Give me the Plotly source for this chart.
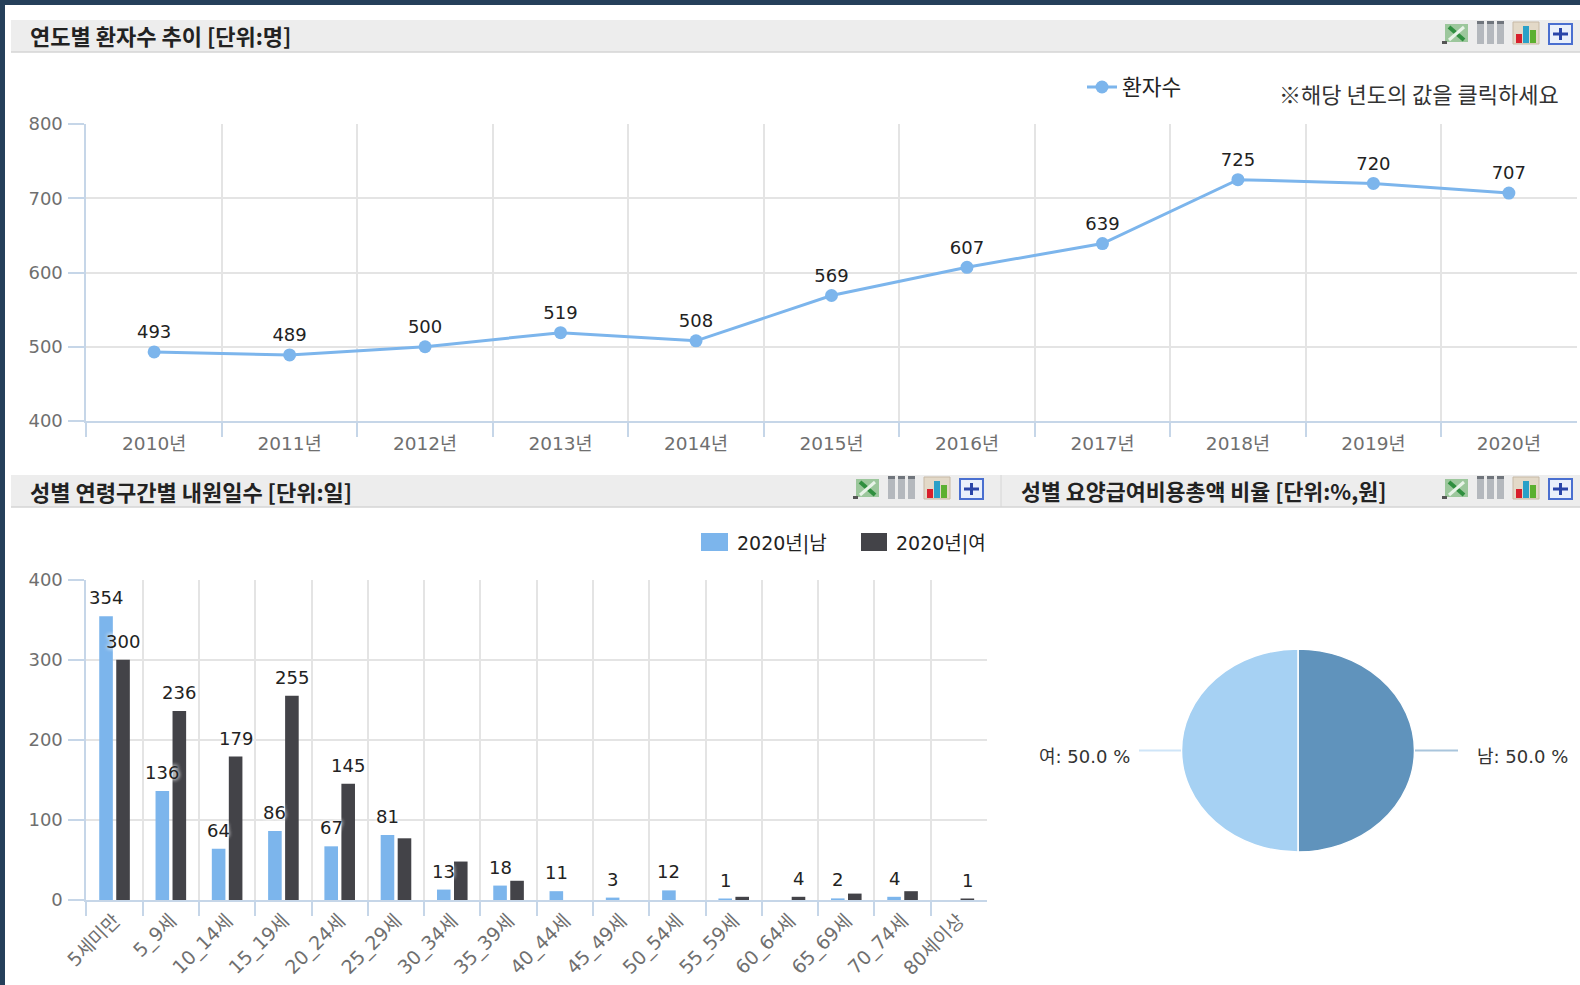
import plotly.graph_objects as go

W, H = 1580, 985
FONT = "DejaVu Sans, Noto Sans CJK KR, sans-serif"
KR = "Noto Sans CJK KR, sans-serif"

years = ["2010년", "2011년", "2012년", "2013년", "2014년", "2015년", "2016년", "2017년", "2018년", "2019년", "2020년"]
patients = [493, 489, 500, 519, 508, 569, 607, 639, 725, 720, 707]

ages = ["5세미만", "5_9세", "10_14세", "15_19세", "20_24세", "25_29세", "30_34세", "35_39세",
        "40_44세", "45_49세", "50_54세", "55_59세", "60_64세", "65_69세", "70_74세", "80세이상"]
male = [354, 136, 64, 86, 67, 81, 13, 18, 11, 3, 12, 1, 0, 2, 4, 0]
female = [300, 236, 179, 255, 145, 77, 48, 24, 0, 0, 0, 4, 4, 8, 11, 1]
male_labeled = [True] * 12 + [False, True, True, False]
female_labeled = [True] * 5 + [False] * 7 + [True, False, False, True]

pie_names = ["남", "여"]
pie_values = [50.0, 50.0]

titles = ["연도별 환자수 추이 [단위:명]", "성별 연령구간별 내원일수 [단위:일]", "성별 요양급여비용총액 비율 [단위:%,원]"]
notice = "※해당 년도의 값을 클릭하세요"

BLUE, DARK = "#7cb5ec", "#434348"
GRID, AXIS, TICK = "#e4e4e4", "#c6d6e8", "#6f6f6f"

PIE_CX, PIE_CY, PIE_RX, PIE_RY = 1298, 750.5, 116.5, 101.5


def px(x):
    return x / W


def py(y):
    return 1 - y / H


shapes, annos = [], []


def rect(x0, y0, x1, y1, fill, line=None, lw=0):
    shapes.append(dict(type="rect", xref="paper", yref="paper", x0=px(x0), x1=px(x1), y0=py(y0), y1=py(y1),
                       fillcolor=fill, line=dict(color=line or fill, width=lw)))


def seg(x0, y0, x1, y1, color, lw=1.5):
    shapes.append(dict(type="line", xref="paper", yref="paper", x0=px(x0), x1=px(x1), y0=py(y0), y1=py(y1),
                       line=dict(color=color, width=lw)))


def text(x, y, s, size, color="#222222", anchor="left", bold=False, family=KR):
    annos.append(dict(xref="paper", yref="paper", x=px(x), y=py(y), text=f"<b>{s}</b>" if bold else s,
                      showarrow=False, xanchor=anchor, yanchor="middle",
                      font=dict(size=size, color=color, family=family)))


def icons(x, y):
    # excel
    rect(x + 4, y + 3, x + 27, y + 21, "#9cc79c")
    seg(x + 8, y + 6, x + 23, y + 19, "#2f8f3f", 4)
    seg(x + 23, y + 6, x + 8, y + 19, "#e8f3e8", 3)
    rect(x + 1, y + 20, x + 6, y + 23, "#555555")
    # columns
    for dx in (36, 46, 56):
        rect(x + dx, y, x + dx + 7, y + 23, "#b4b8bd")
        rect(x + dx, y, x + dx + 7, y + 3, "#70757c")
    # bars
    rect(x + 72, y + 1, x + 98, y + 23, "#e3d9c8", "#c7b9a5", 1)
    rect(x + 75, y + 13, x + 81, y + 22, "#d8202c")
    rect(x + 82, y + 5, x + 88, y + 22, "#2aa0c8")
    rect(x + 89, y + 9, x + 95, y + 22, "#5cb030")
    # plus
    rect(x + 108, y + 3, x + 131, y + 23, "#eaf0fb", "#4a6fd0", 2)
    seg(x + 112, y + 13, x + 127, y + 13, "#2a45a8", 3)
    seg(x + 119.5, y + 7, x + 119.5, y + 19, "#2a45a8", 3)


# page frame
rect(0, 0, W, 5, "#253f5a")
rect(0, 0, 5, H, "#253f5a")

# panel headers
rect(11, 20, W, 52, "#ededed")
seg(11, 52, W, 52, "#d4d4d4", 1.5)
rect(11, 475, W, 507, "#ededed")
seg(11, 507, W, 507, "#d4d4d4", 1.5)
seg(1001, 475, 1001, 507, "#d6d6d6", 1)
text(28, 35, titles[0], 22, bold=True)
text(28, 490.5, titles[1], 22, bold=True)
text(1019, 490.5, titles[2], 21.7, bold=True)
icons(1441, 21)
icons(852, 476)
icons(1441, 476)

# notice
text(1277, 92.5, notice, 22, "#333333")

# hand-placed legend of the bar chart
rect(701, 533, 728, 551, BLUE)
text(735, 543, "2020년|남", 19, "#222222", family=FONT)
rect(861, 533, 887, 551, DARK)
text(894, 543, "2020년|여", 19, "#222222", family=FONT)

# pie labels and leaders
seg(1139, PIE_CY, 1181, PIE_CY, "#cfe5f8", 2)
seg(1415, PIE_CY, 1458, PIE_CY, "#a9c5dc", 2)
text(1037, 756, f"{pie_names[1]}: {pie_values[1]:.1f} %", 18, "#333333", family=FONT)
text(1475, 756, f"{pie_names[0]}: {pie_values[0]:.1f} %", 18, "#333333", family=FONT)

fig = go.Figure()
fig.add_trace(go.Scatter(x=years, y=patients, name="환자수", mode="lines+markers+text",
                         text=[str(v) for v in patients], textposition="top center",
                         textfont=dict(size=18, color="#222222", family=FONT),
                         line=dict(color=BLUE, width=3), marker=dict(color=BLUE, size=13),
                         cliponaxis=False, xaxis="x", yaxis="y"))
fig.add_trace(go.Bar(x=ages, y=male, name="2020년|남", marker=dict(color=BLUE, line=dict(width=0)),
                     xaxis="x2", yaxis="y2", showlegend=False))
fig.add_trace(go.Bar(x=ages, y=female, name="2020년|여", marker=dict(color=DARK, line=dict(width=0)),
                     xaxis="x2", yaxis="y2", showlegend=False))
fig.add_trace(go.Pie(labels=pie_names, values=pie_values, sort=False, direction="clockwise", rotation=0,
                     textinfo="none", hoverinfo="label+percent",
                     marker=dict(colors=["#6093bc", "#a6d1f3"], line=dict(color="#ffffff", width=1.5)),
                     domain=dict(x=[px(PIE_CX - PIE_RX), px(PIE_CX + PIE_RX)],
                                 y=[py(PIE_CY + PIE_RX), py(PIE_CY - PIE_RX)]),
                     showlegend=False))

# bar value labels
SHADOW = "0 0 4px #ffffff, 0 0 4px #ffffff"
for values, flags, shift in ((male, male_labeled, -8.5), (female, female_labeled, 8.5)):
    for cat, v, on in zip(ages, values, flags):
        if on:
            annos.append(dict(x=cat, y=v, xref="x2", yref="y2", text=str(v), showarrow=False,
                              xshift=shift, yshift=6, yanchor="bottom",
                              font=dict(size=18, color="#222222", family=FONT, shadow=SHADOW)))

xstyle = dict(type="category", tickson="boundaries", showgrid=True, gridcolor=GRID, gridwidth=2,
              ticks="outside", ticklen=14, tickwidth=2, tickcolor=AXIS,
              showline=True, linecolor=AXIS, linewidth=2, fixedrange=True)
ystyle = dict(showgrid=True, gridcolor=GRID, gridwidth=2, ticks="outside", ticklen=16, tickwidth=2,
              tickcolor=AXIS, showline=True, linecolor=AXIS, linewidth=2, zeroline=False, dtick=100,
              fixedrange=True, ticklabelstandoff=2, tickfont=dict(size=18, color=TICK, family=FONT))

fig.update_layout(
    width=W, height=H, margin=dict(l=0, r=0, t=0, b=0, autoexpand=False), autosize=False,
    paper_bgcolor="white", plot_bgcolor="white", font=dict(family=FONT),
    barmode="group", bargap=0.396, bargroupgap=0.2,
    xaxis=dict(domain=[px(86.4), px(1576.6)], anchor="y", range=[-0.5, len(years) - 0.5], ticklabelstandoff=5,
               tickfont=dict(size=18.5, color=TICK, family=FONT), **xstyle),
    yaxis=dict(domain=[py(421), py(124)], anchor="x", range=[400, 800], **ystyle),
    xaxis2=dict(domain=[px(86.4), px(987)], anchor="y2", tickangle=-45, range=[-0.5, len(ages) - 0.5],
                tickfont=dict(size=19, color=TICK, family=FONT), **xstyle),
    yaxis2=dict(domain=[py(900), py(579.5)], anchor="x2", range=[0, 400], **ystyle),
    legend=dict(x=px(1082), y=py(87), xanchor="left", yanchor="middle", orientation="h",
                font=dict(size=21.5, color="#222222", family=KR), bgcolor="rgba(0,0,0,0)", itemwidth=30),
    shapes=shapes, annotations=annos,
)
fig.update_traces(showlegend=True, selector=dict(type="scatter"))

# the reference pie is squashed vertically; plotly only draws round pies, so scale the pie layer
squash = f"""
document.body.style.margin='0';
var layer = document.querySelector('.pielayer');
if (layer) {{
  layer.setAttribute('transform',
    'translate(0 {PIE_CY}) scale(1 {PIE_RY / PIE_RX}) translate(0 {-PIE_CY})');
}}
"""
fig.write_html("out.html", config=dict(displayModeBar=False), post_script=squash)
